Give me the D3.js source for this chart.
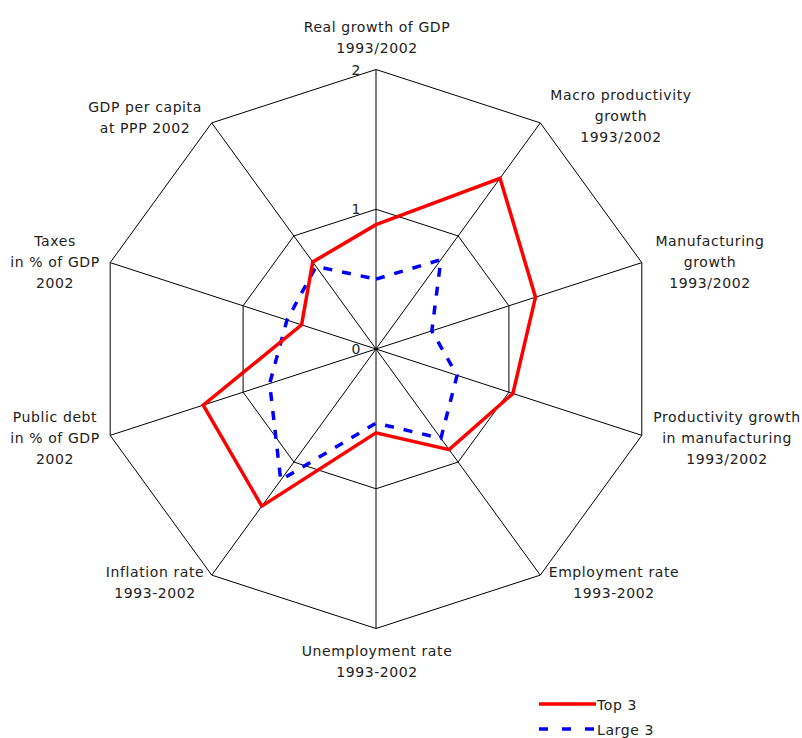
<!DOCTYPE html>
<html>
<head>
<meta charset="utf-8">
<script src="https://cdn.jsdelivr.net/npm/d3@7/dist/d3.min.js"></script>
<style>
  html, body { margin: 0; padding: 0; background: #fff; }
  svg { display: block; }
  text { font-family: "DejaVu Sans", sans-serif; fill: #222; letter-spacing: 0.6px; }
</style>
</head>
<body>
<svg id="chart" width="802" height="738"></svg>
<script>
// Indicator names (one entry per spoke, lines split for wrapping)
const indicators = [
  ["Real growth of GDP", "1993/2002"],
  ["Macro productivity", "growth", "1993/2002"],
  ["Manufacturing", "growth", "1993/2002"],
  ["Productivity growth", "in manufacturing", "1993/2002"],
  ["Employment rate", "1993-2002"],
  ["Unemployment rate", "1993-2002"],
  ["Inflation rate", "1993-2002"],
  ["Public debt", "in % of GDP", "2002"],
  ["Taxes", "in % of GDP", "2002"],
  ["GDP per capita", "at PPP 2002"]
];

// Indexed scores per indicator
const top3   = [0.89, 1.51, 1.20, 1.03, 0.89, 0.60, 1.39, 1.30, 0.56, 0.77];
const large3 = [0.50, 0.79, 0.42, 0.61, 0.79, 0.53, 1.16, 0.80, 0.67, 0.73];

const tickValues = [0, 1, 2];
const seriesNames = ["Top 3", "Large 3"];

// Label anchor points and line baselines
const labelPos = [
  { x: 377, y: 32 },
  { x: 621, y: 100 },
  { x: 710, y: 246 },
  { x: 727, y: 422 },
  { x: 614, y: 577 },
  { x: 377, y: 656 },
  { x: 155, y: 577 },
  { x: 55,  y: 422 },
  { x: 55,  y: 246 },
  { x: 145, y: 112 }
];

const svg = d3.select("#chart");
const cx = 376, cy = 349;
const n = indicators.length;

const r = d3.scaleLinear().domain([0, 2]).range([0, 279.5]);
const angle = d3.scaleLinear().domain([0, n]).range([0, 2 * Math.PI]);

const g = svg.append("g").attr("transform", `translate(${cx},${cy})`);

const point = (i, v) => [Math.sin(angle(i)) * r(v), -Math.cos(angle(i)) * r(v)];

// Grid polygons
tickValues.filter(t => t > 0).forEach(t => {
  g.append("path")
    .attr("d", d3.line()(d3.range(n).map(i => point(i, t))) + "Z")
    .attr("fill", "none")
    .attr("stroke", "#000")
    .attr("stroke-width", 1);
});

// Spokes
g.selectAll("line.spoke")
  .data(d3.range(n))
  .join("line")
  .attr("class", "spoke")
  .attr("x1", 0).attr("y1", 0)
  .attr("x2", i => point(i, 2)[0])
  .attr("y2", i => point(i, 2)[1])
  .attr("stroke", "#000")
  .attr("stroke-width", 1);

// Tick labels on the vertical axis
g.selectAll("text.tick")
  .data(tickValues)
  .join("text")
  .attr("class", "tick")
  .attr("x", -15)
  .attr("y", d => -r(d) + 5)
  .attr("text-anchor", "end")
  .attr("font-size", 14)
  .text(d => d);

// Series lines
const radial = d3.lineRadial()
  .angle((d, i) => angle(i))
  .radius(d => r(d))
  .curve(d3.curveLinearClosed);

g.append("path")
  .datum(large3)
  .attr("d", radial)
  .attr("fill", "none")
  .attr("stroke", "#0000ff")
  .attr("stroke-width", 3.5)
  .attr("stroke-dasharray", "9,10");

g.append("path")
  .datum(top3)
  .attr("d", radial)
  .attr("fill", "none")
  .attr("stroke", "#ff0000")
  .attr("stroke-width", 3.5)
  .attr("stroke-linejoin", "miter");

// Indicator labels
indicators.forEach((lines, i) => {
  const t = svg.append("text")
    .attr("text-anchor", "middle")
    .attr("font-size", 14);
  lines.forEach((ln, j) => {
    t.append("tspan")
      .attr("x", labelPos[i].x)
      .attr("y", labelPos[i].y + j * 21)
      .text(ln);
  });
});

// Legend
const legend = svg.append("g").attr("transform", "translate(539,704)");
const styles = [
  { stroke: "#ff0000", dash: null },
  { stroke: "#0000ff", dash: "9,14" }
];
seriesNames.forEach((name, i) => {
  const row = legend.append("g").attr("transform", `translate(0,${i * 25})`);
  row.append("line")
    .attr("x1", 0).attr("x2", 57)
    .attr("y1", 0).attr("y2", 0)
    .attr("stroke", styles[i].stroke)
    .attr("stroke-width", 3.5)
    .attr("stroke-dasharray", styles[i].dash);
  row.append("text")
    .attr("x", 58)
    .attr("y", 6)
    .attr("font-size", 14)
    .text(name);
});
</script>
</body>
</html>
